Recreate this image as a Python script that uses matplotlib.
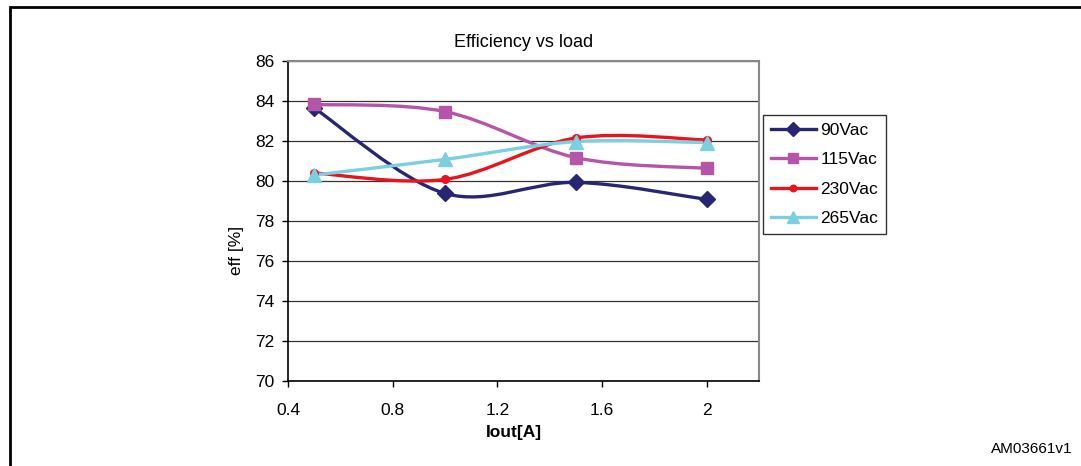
import numpy as np
import matplotlib
matplotlib.use("Agg")
import matplotlib.pyplot as plt
from matplotlib.path import Path
from matplotlib.patches import PathPatch, Rectangle
from matplotlib.lines import Line2D

plt.rcParams['font.family'] = ['Liberation Sans', 'DejaVu Sans']

# data
iout = [0.5, 1.0, 1.5, 2.0]
eff_90 = [83.65, 79.38, 79.93, 79.08]
eff_115 = [83.83, 83.47, 81.17, 80.63]
eff_230 = [80.40, 80.08, 82.15, 82.05]
eff_265 = [80.30, 81.08, 81.97, 81.92]

series = [
    ('90Vac', eff_90, '#262675', 'D', 8.5),
    ('115Vac', eff_115, '#B654AA', 's', 9),
    ('230Vac', eff_230, '#E8141C', 'o', 5.5),
    ('265Vac', eff_265, '#7ACFE0', '^', 10),
]


def smooth_path(x, y):
    # Excel-style smoothed line: cubic bezier segments through the points
    pts = np.column_stack([x, y])
    n = len(pts)
    verts = [pts[0]]
    codes = [Path.MOVETO]
    for i in range(n - 1):
        p_prev = pts[i - 1] if i > 0 else pts[i]
        p_next2 = pts[i + 2] if i + 2 < n else pts[i + 1]
        c1 = pts[i] + (pts[i + 1] - p_prev) / 6.0
        c2 = pts[i + 1] - (p_next2 - pts[i]) / 6.0
        verts += [c1, c2, pts[i + 1]]
        codes += [Path.CURVE4] * 3
    return Path(verts, codes)


fig = plt.figure(figsize=(10.81, 4.66), dpi=100)
ax = fig.add_axes([288 / 1081, 1 - 381 / 466, (759 - 288) / 1081, (381 - 61) / 466])

handles = []
for name, vals, color, marker, ms in series:
    ax.add_patch(PathPatch(smooth_path(iout, vals), facecolor='none',
                           edgecolor=color, lw=2.4, zorder=3, capstyle='round'))
    ax.plot(iout, vals, linestyle='none', marker=marker, color=color,
            markersize=ms, zorder=4)
    handles.append(Line2D([0], [0], color=color, lw=2.4, marker=marker,
                          markersize=ms * 0.85, label=name))

ax.set_xlim(0.4, 2.2)
ax.set_ylim(70, 86)
ax.set_xticks([0.4, 0.8, 1.2, 1.6, 2.0])
ax.set_xticklabels(['0.4', '0.8', '1.2', '1.6', '2'])
ax.set_yticks(range(70, 87, 2))
ax.tick_params(axis='both', labelsize=12.5, direction='out', length=4, width=1)
ax.tick_params(axis='x', pad=12)
ax.tick_params(axis='y', pad=6)
ax.yaxis.grid(True, color='#333333', lw=0.9)
ax.set_axisbelow(True)
for side in ['left', 'bottom']:
    ax.spines[side].set_color('black')
    ax.spines[side].set_linewidth(1.2)
for side in ['top', 'right']:
    ax.spines[side].set_color('#888888')
    ax.spines[side].set_linewidth(1.5)

ax.set_title('Efficiency vs load', fontsize=13, pad=10)
fig.text(236 / 1081, 1 - 250 / 466, 'eff [%]', rotation=90, fontsize=12.5,
         ha='center', va='center')
fig.text(514 / 1081, 1 - 433 / 466, 'Iout[A]', fontsize=12.5, fontweight='bold',
         ha='center', va='center')
fig.text(1072 / 1081, 1 - 449 / 466, 'AM03661v1', fontsize=11,
         ha='right', va='center')

leg = fig.legend(handles=handles, loc='upper left',
                 bbox_to_anchor=(763 / 1081, 1 - 115 / 466), fontsize=12.5,
                 frameon=True, fancybox=False, edgecolor='black',
                 handlelength=2.6, handletextpad=0.25, labelspacing=0.82,
                 borderpad=0.45, borderaxespad=0)
leg.get_frame().set_linewidth(1.0)

# outer frame (top and left edges visible)
fig.add_artist(Rectangle((10 / 1081, -0.1), 1.2, 1 - 6.5 / 466 + 0.1,
                         transform=fig.transFigure, fill=False,
                         edgecolor='black', lw=2))

fig.savefig('out.png', dpi=100)
